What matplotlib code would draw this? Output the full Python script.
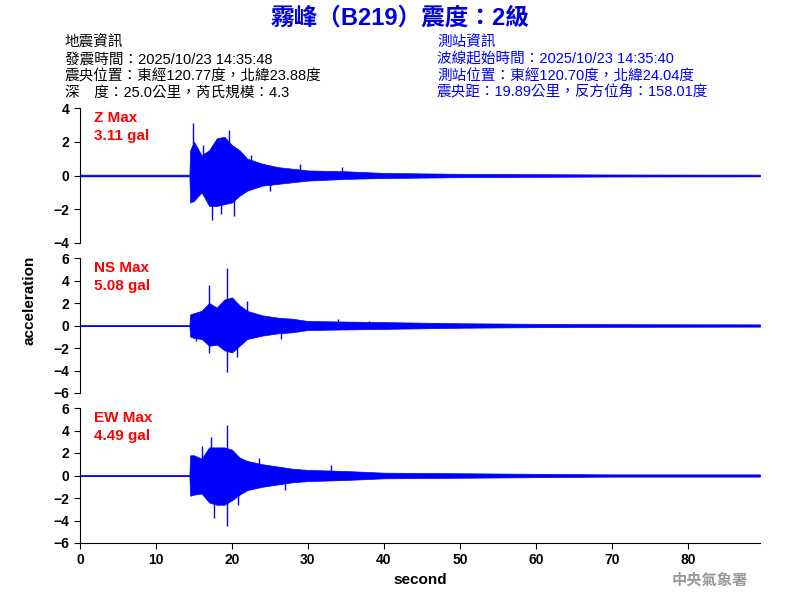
import matplotlib
matplotlib.use("Agg")
import matplotlib.pyplot as plt
import numpy as np

plt.rcParams['font.family'] = ['Liberation Sans', 'Noto Sans CJK TC', 'DejaVu Sans']

# envelope sample times (s)
env_t = [0, 14.4, 14.5, 15, 16, 17, 18, 19, 20, 21, 22, 24, 26, 28, 30, 35, 40, 50, 60, 70, 89.5]
z_up = [.05, .05, 1.5, 2.0, 1.2, 1.5, 2.2, 2.3, 1.8, 1.5, 1.0, .7, .5, .4, .3, .25, .15, .1, .08, .06, .05]
z_lo = [-.05, -.05, -1.6, -1.5, -1.0, -1.8, -1.8, -1.7, -1.6, -1.2, -.9, -.6, -.5, -.4, -.3, -.2, -.15, -.1, -.08, -.06, -.05]
ns_up = [.05, .05, 1.0, 1.1, 1.3, 2.0, 1.6, 2.3, 2.5, 1.8, 1.3, .9, .7, .6, .4, .35, .3, .2, .15, .12, .1]
ns_lo = [-.05, -.05, -1.0, -1.1, -1.2, -1.8, -1.7, -2.2, -2.4, -1.8, -1.2, -.9, -.7, -.6, -.4, -.35, -.3, -.2, -.15, -.12, -.1]
ew_up = [.05, .05, 1.8, 1.8, 1.5, 2.5, 2.5, 2.5, 2.3, 1.6, 1.3, 1.0, .8, .6, .5, .4, .25, .2, .15, .1, .1]
ew_lo = [-.05, -.05, -1.8, -1.7, -1.6, -2.4, -2.6, -2.6, -2.2, -1.7, -1.3, -1.0, -.8, -.6, -.5, -.4, -.25, -.2, -.15, -.1, -.1]

# prominent spikes (time, value)
z_spk_t = [14.9, 17.4, 18.5, 19.6, 20.3, 16.2, 22.5, 25.0, 29.0, 34.5]
z_spk_v = [3.11, -2.64, -2.3, 2.7, -2.4, 1.8, 1.2, -0.9, 0.7, 0.5]
ns_spk_t = [17.0, 17.0, 19.4, 19.4, 20.6, 22.0, 15.3, 26.5, 34.0, 38.0]
ns_spk_v = [3.6, -2.4, 5.08, -4.1, -2.8, 2.2, -1.4, -1.2, 0.6, 0.4]
ew_spk_t = [17.2, 17.6, 19.4, 19.4, 20.8, 16.0, 23.5, 27.0, 33.0]
ew_spk_v = [3.4, -3.8, 4.49, -4.5, -2.6, 2.6, 1.6, -1.3, 0.9]

components = [
    ("Z Max", "3.11 gal", z_up, z_lo, z_spk_t, z_spk_v, 4, [-4, -2, 0, 2, 4]),
    ("NS Max", "5.08 gal", ns_up, ns_lo, ns_spk_t, ns_spk_v, 6, [-6, -4, -2, 0, 2, 4, 6]),
    ("EW Max", "4.49 gal", ew_up, ew_lo, ew_spk_t, ew_spk_v, 6, [-6, -4, -2, 0, 2, 4, 6]),
]

fig = plt.figure(figsize=(8, 6), dpi=100)
W, H = 800, 600
tops = [108, 258, 408]
for i, (name, val, up, lo, st, sv, lim, ticks) in enumerate(components):
    ax = fig.add_axes([80 / W, 1 - (tops[i] + 135) / H, 680 / W, 135 / H])
    ax.fill_between(env_t, lo, up, color='blue', linewidth=0.5)
    ax.vlines(st, 0, sv, color='blue', linewidth=1.0)
    ax.axhline(0, color='blue', linewidth=0.6)
    ax.set_xlim(0, 89.5)
    ax.set_ylim(-lim, lim)
    ax.set_yticks(ticks)
    for s in ['top', 'right']:
        ax.spines[s].set_visible(False)
    ax.tick_params(labelsize=10, length=4)
    for lab in ax.get_yticklabels():
        lab.set_fontweight('bold')
    if i < 2:
        ax.spines['bottom'].set_visible(False)
        ax.set_xticks([])
    else:
        ax.set_xticks(range(0, 90, 10))
        for lab in ax.get_xticklabels():
            lab.set_fontweight('bold')
        ax.set_xlabel('second', fontsize=11, fontweight='bold')
    ax.text(0.02, 0.98, name + "\n" + val, transform=ax.transAxes, color='red',
            fontsize=11, fontweight='bold', va='top', ha='left', linespacing=1.4)

fig.text(30 / W, 1 - 300 / H, 'acceleration', rotation=90, fontsize=11, fontweight='bold',
         ha='center', va='center')

fig.text(400 / W, 1 - 18 / H, '霧峰（B219）震度：2級', color='#0000dd', fontsize=17,
         fontweight='bold', ha='center', va='center')
left = ['地震資訊', '發震時間：2025/10/23 14:35:48', '震央位置：東經120.77度，北緯23.88度',
        '深　度：25.0公里，芮氏規模：4.3']
right = ['測站資訊', '波線起始時間：2025/10/23 14:35:40', '測站位置：東經120.70度，北緯24.04度',
         '震央距：19.89公里，反方位角：158.01度']
for k, (l, r) in enumerate(zip(left, right)):
    y = 1 - (43 + k * 16.5) / H
    fig.text(65 / W, y, l, fontsize=10.5, va='center', color='black')
    fig.text(437 / W, y, r, fontsize=10.5, va='center', color='blue')

fig.text(748 / W, 1 - 580 / H, '中央氣象署', color='#999999', fontsize=11, fontweight='bold',
         ha='right', va='center')
fig.savefig('out.png', dpi=100)
